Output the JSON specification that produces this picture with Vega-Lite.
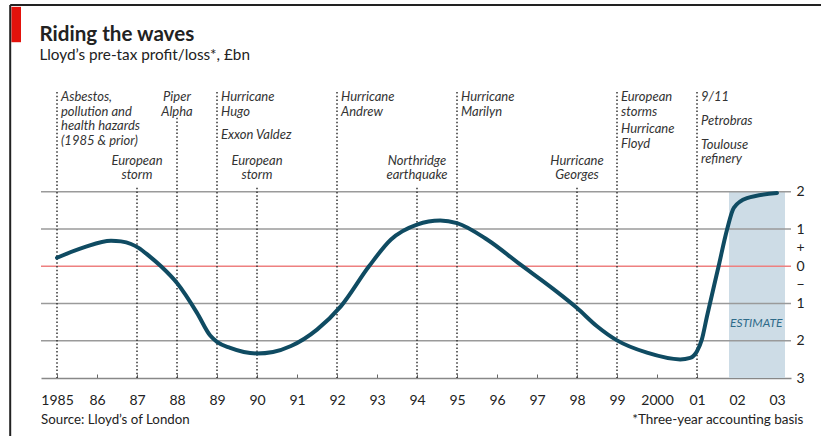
{
  "$schema": "https://vega.github.io/schema/vega-lite/v6.json",
  "width": 750,
  "height": 290,
  "autosize": {"type": "none"},
  "padding": {"left": 41, "top": 88, "right": 30, "bottom": 58},
  "background": "white",
  "config": {"view": {"stroke": null}, "font": "Lato"},
  "datasets": {
    "profit": [
      {"year": 1985.0, "value": 0.23},
      {"year": 1985.67, "value": 0.51},
      {"year": 1986.35, "value": 0.69},
      {"year": 1986.6, "value": 0.67},
      {"year": 1986.85, "value": 0.6},
      {"year": 1987.05, "value": 0.49},
      {"year": 1987.3, "value": 0.28},
      {"year": 1987.6, "value": 0.0},
      {"year": 1988.0, "value": -0.45},
      {"year": 1988.5, "value": -1.25},
      {"year": 1988.83, "value": -1.86},
      {"year": 1989.0, "value": -2.03},
      {"year": 1989.33, "value": -2.19},
      {"year": 1989.67, "value": -2.3},
      {"year": 1990.0, "value": -2.34},
      {"year": 1990.4, "value": -2.3},
      {"year": 1990.85, "value": -2.14},
      {"year": 1991.5, "value": -1.7},
      {"year": 1992.1, "value": -1.07},
      {"year": 1992.8, "value": 0.0},
      {"year": 1993.35, "value": 0.72},
      {"year": 1994.0, "value": 1.12},
      {"year": 1994.58, "value": 1.23},
      {"year": 1995.0, "value": 1.16},
      {"year": 1995.75, "value": 0.72},
      {"year": 1996.58, "value": 0.05},
      {"year": 1997.42, "value": -0.62},
      {"year": 1998.0, "value": -1.12},
      {"year": 1998.5, "value": -1.61},
      {"year": 1999.0, "value": -1.99},
      {"year": 1999.75, "value": -2.32},
      {"year": 2000.58, "value": -2.5},
      {"year": 2000.83, "value": -2.46},
      {"year": 2001.0, "value": -2.28},
      {"year": 2001.12, "value": -1.97},
      {"year": 2001.25, "value": -1.34},
      {"year": 2001.54, "value": 0.0},
      {"year": 2001.75, "value": 0.98},
      {"year": 2001.92, "value": 1.57},
      {"year": 2002.25, "value": 1.83},
      {"year": 2003.0, "value": 1.97}
    ],
    "grid": [{"value": 2}, {"value": 1}, {"value": -1}, {"value": -2}],
    "events": [
      {"year": 1985, "top": 4.68},
      {"year": 1987, "top": 2.11},
      {"year": 1988, "top": 3.99},
      {"year": 1989, "top": 4.68},
      {"year": 1990, "top": 2.11},
      {"year": 1992, "top": 4.68},
      {"year": 1994, "top": 2.11},
      {"year": 1995, "top": 4.68},
      {"year": 1998, "top": 2.11},
      {"year": 1999, "top": 4.68},
      {"year": 2001, "top": 4.68}
    ],
    "notesLeft": [
      {"year": 1985, "pos": 4.7, "label": "Asbestos,\npollution and\nhealth hazards\n(1985 & prior)"},
      {"year": 1989, "pos": 4.7, "label": "Hurricane\nHugo"},
      {"year": 1989, "pos": 3.69, "label": "Exxon Valdez"},
      {"year": 1992, "pos": 4.7, "label": "Hurricane\nAndrew"},
      {"year": 1995, "pos": 4.7, "label": "Hurricane\nMarilyn"},
      {"year": 1999, "pos": 4.7, "label": "European\nstorms"},
      {"year": 1999, "pos": 3.84, "label": "Hurricane\nFloyd"},
      {"year": 2001, "pos": 4.7, "label": "9/11"},
      {"year": 2001, "pos": 4.06, "label": "Petrobras"},
      {"year": 2001, "pos": 3.43, "label": "Toulouse\nrefinery"}
    ],
    "notesCenter": [
      {"year": 1987, "pos": 3.0, "label": "European\nstorm"},
      {"year": 1988, "pos": 4.7, "label": "Piper\nAlpha"},
      {"year": 1990, "pos": 3.0, "label": "European\nstorm"},
      {"year": 1994, "pos": 3.0, "label": "Northridge\nearthquake"},
      {"year": 1998, "pos": 3.0, "label": "Hurricane\nGeorges"}
    ],
    "estimate": [{"start": 2001.8, "end": 2003.2, "low": -3, "high": 2, "mid": 2002.48, "tpos": -1.51, "label": "ESTIMATE"}],
    "footer": [
      {"year": 1984.6, "pos": -4.14, "label": "Source: Lloyd’s of London", "side": "left"},
      {"year": 2003.66, "pos": -4.14, "label": "*Three-year accounting basis", "side": "right"}
    ],
    "heading": [
      {"year": 1984.56, "pos": 6.06, "label": "Riding the waves", "kind": "title"},
      {"year": 1984.56, "pos": 5.53, "label": "Lloyd’s pre-tax profit/loss*, £bn", "kind": "subtitle"}
    ]
  },
  "layer": [
    {
      "data": {"name": "estimate"},
      "mark": {"type": "rect", "color": "#cddce6"},
      "encoding": {
        "x": {
          "field": "start", "type": "quantitative",
          "scale": {"domain": [1984.6, 2003.35], "nice": false, "zero": false},
          "axis": {
            "orient": "bottom",
            "values": [1985, 1986, 1987, 1988, 1989, 1990, 1991, 1992, 1993, 1994, 1995, 1996, 1997, 1998, 1999, 2000, 2001, 2002, 2003],
            "labelExpr": "datum.value == 1985 || datum.value == 2000 ? format(datum.value, 'd') : slice(format(datum.value, 'd'), 2)",
            "title": null,
            "grid": false,
            "domainColor": "#888888",
            "domainWidth": 1.5,
            "tickColor": "#666666",
            "tickSize": -4,
            "tickWidth": 1,
            "labelPadding": 26,
            "labelFont": "Lato",
            "labelFontSize": 14,
            "labelColor": "#222222",
            "labelBaseline": "middle",
            "labelFlush": false,
            "labelOverlap": false
          }
        },
        "x2": {"field": "end"},
        "y": {
          "field": "low", "type": "quantitative",
          "scale": {"domain": [-3, 4.79], "nice": false, "zero": false},
          "axis": {
            "orient": "right",
            "values": [2, 1, 0.5, 0, -0.5, -1, -2, -3],
            "labelExpr": "datum.value == 0.5 ? '+' : datum.value == -0.5 ? '−' : format(abs(datum.value), 'd')",
            "title": null,
            "grid": false,
            "domain": false,
            "ticks": false,
            "labelPadding": 5,
            "labelFont": "Lato",
            "labelFontSize": 14,
            "labelColor": "#222222",
            "labelFlush": false,
            "labelOverlap": false
          }
        },
        "y2": {"field": "high"}
      }
    },
    {
      "data": {"name": "grid"},
      "mark": {"type": "rule", "color": "#9a9a9a", "strokeWidth": 1.5},
      "encoding": {
        "y": {"field": "value", "type": "quantitative", "scale": {"domain": [-3, 4.79], "nice": false, "zero": false}}
      }
    },
    {
      "data": {"values": [{"value": 0}]},
      "mark": {"type": "rule", "color": "#ee8080", "strokeWidth": 1.5},
      "encoding": {
        "y": {"field": "value", "type": "quantitative", "scale": {"domain": [-3, 4.79], "nice": false, "zero": false}}
      }
    },
    {
      "data": {"name": "events"},
      "mark": {"type": "rule", "color": "#333333", "strokeWidth": 1.5, "strokeDash": [1.5, 2.2]},
      "encoding": {
        "x": {"field": "year", "type": "quantitative", "scale": {"domain": [1984.6, 2003.35], "nice": false, "zero": false}},
        "y": {"field": "top", "type": "quantitative", "scale": {"domain": [-3, 4.79], "nice": false, "zero": false}},
        "y2": {"datum": -3}
      }
    },
    {
      "data": {"name": "profit"},
      "mark": {"type": "line", "color": "#0f4b62", "strokeWidth": 4, "interpolate": "monotone", "strokeCap": "round"},
      "encoding": {
        "x": {"field": "year", "type": "quantitative", "scale": {"domain": [1984.6, 2003.35], "nice": false, "zero": false}},
        "y": {"field": "value", "type": "quantitative", "scale": {"domain": [-3, 4.79], "nice": false, "zero": false}}
      }
    },
    {
      "data": {"name": "notesLeft"},
      "mark": {"type": "text", "align": "left", "baseline": "top", "dx": 4, "font": "Lato", "fontStyle": "italic", "fontSize": 13, "lineHeight": 14.4, "lineBreak": "\n", "color": "#333333"},
      "encoding": {
        "x": {"field": "year", "type": "quantitative", "scale": {"domain": [1984.6, 2003.35], "nice": false, "zero": false}},
        "y": {"field": "pos", "type": "quantitative", "scale": {"domain": [-3, 4.79], "nice": false, "zero": false}},
        "text": {"field": "label"}
      }
    },
    {
      "data": {"name": "notesCenter"},
      "mark": {"type": "text", "align": "center", "baseline": "top", "font": "Lato", "fontStyle": "italic", "fontSize": 13, "lineHeight": 14.4, "lineBreak": "\n", "color": "#333333"},
      "encoding": {
        "x": {"field": "year", "type": "quantitative", "scale": {"domain": [1984.6, 2003.35], "nice": false, "zero": false}},
        "y": {"field": "pos", "type": "quantitative", "scale": {"domain": [-3, 4.79], "nice": false, "zero": false}},
        "text": {"field": "label"}
      }
    },
    {
      "data": {"name": "estimate"},
      "mark": {"type": "text", "align": "center", "baseline": "middle", "font": "Lato", "fontStyle": "italic", "fontSize": 12, "color": "#2f6b8a"},
      "encoding": {
        "x": {"field": "mid", "type": "quantitative", "scale": {"domain": [1984.6, 2003.35], "nice": false, "zero": false}},
        "y": {"field": "tpos", "type": "quantitative", "scale": {"domain": [-3, 4.79], "nice": false, "zero": false}},
        "text": {"field": "label"}
      }
    },
    {
      "data": {"name": "footer"},
      "transform": [{"filter": "datum.side == 'left'"}],
      "mark": {"type": "text", "align": "left", "baseline": "middle", "font": "Lato", "fontSize": 13.3, "color": "#222222"},
      "encoding": {
        "x": {"field": "year", "type": "quantitative", "scale": {"domain": [1984.6, 2003.35], "nice": false, "zero": false}},
        "y": {"field": "pos", "type": "quantitative", "scale": {"domain": [-3, 4.79], "nice": false, "zero": false}},
        "text": {"field": "label"}
      }
    },
    {
      "data": {"name": "footer"},
      "transform": [{"filter": "datum.side == 'right'"}],
      "mark": {"type": "text", "align": "right", "baseline": "middle", "font": "Lato", "fontSize": 13.5, "color": "#222222"},
      "encoding": {
        "x": {"field": "year", "type": "quantitative", "scale": {"domain": [1984.6, 2003.35], "nice": false, "zero": false}},
        "y": {"field": "pos", "type": "quantitative", "scale": {"domain": [-3, 4.79], "nice": false, "zero": false}},
        "text": {"field": "label"}
      }
    },
    {
      "data": {"name": "heading"},
      "transform": [{"filter": "datum.kind == 'title'"}],
      "mark": {"type": "text", "align": "left", "baseline": "alphabetic", "font": "Lato", "fontSize": 20.6, "fontWeight": "bold", "color": "#222222"},
      "encoding": {
        "x": {"field": "year", "type": "quantitative", "scale": {"domain": [1984.6, 2003.35], "nice": false, "zero": false}},
        "y": {"field": "pos", "type": "quantitative", "scale": {"domain": [-3, 4.79], "nice": false, "zero": false}},
        "text": {"field": "label"}
      }
    },
    {
      "data": {"name": "heading"},
      "transform": [{"filter": "datum.kind == 'subtitle'"}],
      "mark": {"type": "text", "align": "left", "baseline": "alphabetic", "font": "Lato", "fontSize": 15.3, "color": "#222222"},
      "encoding": {
        "x": {"field": "year", "type": "quantitative", "scale": {"domain": [1984.6, 2003.35], "nice": false, "zero": false}},
        "y": {"field": "pos", "type": "quantitative", "scale": {"domain": [-3, 4.79], "nice": false, "zero": false}},
        "text": {"field": "label"}
      }
    },
    {
      "data": {"values": [{}]},
      "mark": {"type": "rect", "color": "#e3120b"},
      "encoding": {
        "x": {"datum": 1983.86, "type": "quantitative", "scale": {"domain": [1984.6, 2003.35], "nice": false, "zero": false}},
        "x2": {"datum": 1984.1},
        "y": {"datum": 6.97, "type": "quantitative", "scale": {"domain": [-3, 4.79], "nice": false, "zero": false}},
        "y2": {"datum": 6.02}
      }
    },
    {
      "data": {"values": [{}]},
      "mark": {"type": "rule", "color": "#222222", "strokeWidth": 2},
      "encoding": {
        "x": {"datum": 1983.83, "type": "quantitative", "scale": {"domain": [1984.6, 2003.35], "nice": false, "zero": false}},
        "x2": {"datum": 2004.6},
        "y": {"datum": 7.02, "type": "quantitative", "scale": {"domain": [-3, 4.79], "nice": false, "zero": false}}
      }
    },
    {
      "data": {"values": [{}]},
      "mark": {"type": "rule", "color": "#222222", "strokeWidth": 2},
      "encoding": {
        "x": {"datum": 1983.83, "type": "quantitative", "scale": {"domain": [1984.6, 2003.35], "nice": false, "zero": false}},
        "y": {"datum": 7.02, "type": "quantitative", "scale": {"domain": [-3, 4.79], "nice": false, "zero": false}},
        "y2": {"datum": -4.7}
      }
    }
  ]
}
